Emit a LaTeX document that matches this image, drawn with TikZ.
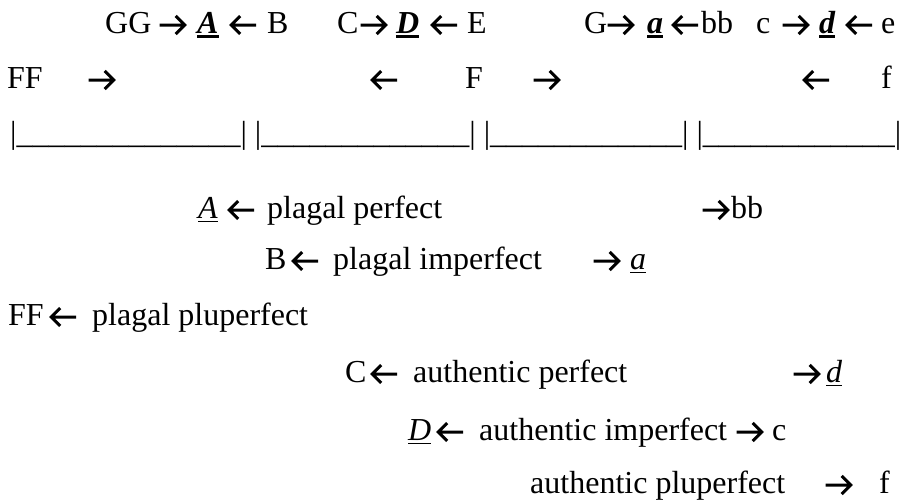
\documentclass[tikz,border=0pt]{standalone}
\usepackage{fontspec}
\setmainfont{Liberation Serif}
\usepackage{tikz}

\newsavebox\ulbox
\newcommand\ulword[3]{\sbox\ulbox{#3}\rlap{\rule[-#1]{\wd\ulbox}{#2}}\usebox\ulbox}
\newcommand\keyup[1]{\ulword{5pt}{3pt}{\bfseries\itshape #1}}
\newcommand\keylow[1]{\ulword{4pt}{1.4pt}{\itshape #1}}
% the heavy arrows of the text
\newcommand\rarr{\tikz[baseline=0pt, line width=3pt]{\path (0pt,0pt);
  \draw (0pt,8pt) -- (25pt,8pt) (16pt,-1pt) -- (25pt,8pt) -- (16pt,17pt);}}
\newcommand\larr{\tikz[baseline=0pt, line width=3pt]{\path (0pt,0pt);
  \draw (27pt,8pt) -- (2pt,8pt) (11pt,-1pt) -- (2pt,8pt) -- (11pt,17pt);}}

\begin{document}
\begin{tikzpicture}[x=1pt, y=-1pt,
  every node/.style={inner sep=0pt, anchor=base west, font=\fontsize{32}{38}\selectfont}]
\useasboundingbox (0,0) rectangle (902,501);
% first row: the keys
\node (gg) at (105,33) {GG};
\node (r1) at (158,33) {\rarr};
\node (kA) at (197,33) {\keyup{A}};
\node (l1) at (229,33) {\larr};
\node (kB) at (267,33) {B};
\node (kC) at (337,33) {C};
\node (r2) at (359,33) {\rarr};
\node (kD) at (396,33) {\keyup{D}};
\node (l2) at (430,33) {\larr};
\node (kE) at (467,33) {E};
\node (kG) at (584,33) {G};
\node (r3) at (606,33) {\rarr};
\node (ka) at (647,33) {\keyup{a}};
\node (l3) at (671,33) {\larr};
\node (kbb) at (701,33) {bb};
\node (kc) at (756,33) {c};
\node (r4) at (781,33) {\rarr};
\node (kd) at (819,33) {\keyup{d}};
\node (l4) at (845,33) {\larr};
\node (ke) at (881,33) {e};
% second row
\node (ff) at (7,88) {FF};
\node (r5) at (87,88) {\rarr};
\node (l5) at (370,88) {\larr};
\node (kF) at (465,88) {F};
\node (r6) at (532,88) {\rarr};
\node (l6) at (802,88) {\larr};
\node (kf) at (881,88) {f};
% the four spans
\node (spans) at (10,143) {|\_\_\_\_\_\_\_\_\_\_\_\_\_\_| |\_\_\_\_\_\_\_\_\_\_\_\_\_| |\_\_\_\_\_\_\_\_\_\_\_\_| |\_\_\_\_\_\_\_\_\_\_\_\_|};
% plagal cadences
\node (pA) at (198,218) {\keylow{A}};
\node (pl1) at (227,218) {\larr};
\node (pperf) at (267,218) {plagal perfect};
\node (pr1) at (701,218) {\rarr};
\node (pbb) at (731,218) {bb};
\node (pB) at (265,269) {B};
\node (pl2) at (291,269) {\larr};
\node (pimp) at (333,269) {plagal imperfect};
\node (pr2) at (592,269) {\rarr};
\node (pa) at (630,269) {\keylow{a}};
\node (pFF) at (8,325) {FF};
\node (pl3) at (49,325) {\larr};
\node (pplu) at (92,325) {plagal pluperfect};
% authentic cadences
\node (aC) at (345,382) {C};
\node (al1) at (370,382) {\larr};
\node (aperf) at (413,382) {authentic perfect};
\node (ar1) at (792,382) {\rarr};
\node (ad) at (826,382) {\keylow{d}};
\node (aD) at (408,440) {\keylow{D}};
\node (al2) at (436,440) {\larr};
\node (aimp) at (479,440) {authentic imperfect};
\node (ar2) at (735,440) {\rarr};
\node (ac) at (772,440) {c};
\node (aplu) at (530,493) {authentic pluperfect};
\node (ar3) at (824,493) {\rarr};
\node (af) at (879,493) {f};
\end{tikzpicture}
\end{document}
